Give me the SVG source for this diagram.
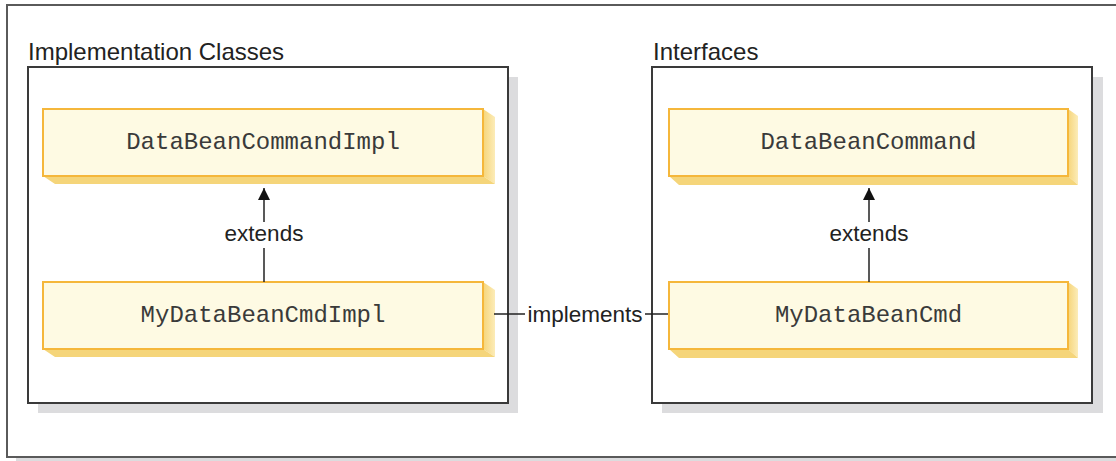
<svg xmlns="http://www.w3.org/2000/svg" width="1116" height="461" viewBox="0 0 1116 461">
<style>
.frame{fill:#ffffff;stroke:#5a5a5a;stroke-width:2}
.panel{fill:#ffffff;stroke:#3a3a3a;stroke-width:2}
.shadow{fill:#dcdcde}
.nodebox{fill:#fefae3;stroke:#f5b73b;stroke-width:2}
.bottom{fill:#f5d57a}
.mono{font-family:"Liberation Mono","Courier New",monospace;font-size:24px;fill:#3a3a3a;text-anchor:middle}
.title{font-family:"Liberation Sans",Arial,sans-serif;font-size:24px;fill:#222222}
.lbl{font-family:"Liberation Sans",Arial,sans-serif;font-size:22.5px;fill:#222222;text-anchor:middle}
.conn{stroke:#222222;stroke-width:1.5;fill:none}
</style>
<defs>
<linearGradient id="sideGrad" x1="0" y1="0" x2="1" y2="0">
<stop offset="0" stop-color="#f6d57a"/>
<stop offset="1" stop-color="#fcecb8"/>
</linearGradient>
<marker id="arrow" viewBox="0 0 12 12" refX="12" refY="6" markerWidth="12" markerHeight="12" markerUnits="userSpaceOnUse" orient="auto">
<path d="M0,0 L12,6 L0,12 Z" fill="#111111"/>
</marker>
</defs>
<!-- outer frame -->
<rect x="16" y="458" width="1100" height="3" class="shadow"/>
<rect x="7" y="5" width="1120" height="452" class="frame"/>

<g id="panel-impl">
<rect x="38" y="77" width="480" height="336" class="shadow"/>
<rect x="28" y="67" width="480" height="336" class="panel"/>
<text x="28" y="60" class="title">Implementation Classes</text>
</g>
<g id="panel-interfaces">
<rect x="662" y="77" width="441" height="336" class="shadow"/>
<rect x="652" y="67" width="440" height="336" class="panel"/>
<text x="653" y="60" class="title">Interfaces</text>
</g>

<g id="node-DataBeanCommandImpl">
<polygon points="483,109 495,117 495,184 483,176" fill="url(#sideGrad)"/>
<polygon points="43,176 55,184 495,184 483,176" class="bottom"/>
<rect x="43" y="109" width="440" height="67" class="nodebox"/>
<text x="263" y="149" class="mono">DataBeanCommandImpl</text>
</g>
<g id="node-MyDataBeanCmdImpl">
<polygon points="483,282 495,290 495,357 483,349" fill="url(#sideGrad)"/>
<polygon points="43,349 55,357 495,357 483,349" class="bottom"/>
<rect x="43" y="282" width="440" height="67" class="nodebox"/>
<text x="263" y="322" class="mono">MyDataBeanCmdImpl</text>
</g>
<g id="node-DataBeanCommand">
<polygon points="1068,109 1078,116 1078,185 1068,176" fill="url(#sideGrad)"/>
<polygon points="669,176 679,185 1078,185 1068,176" class="bottom"/>
<rect x="669" y="109" width="399" height="67" class="nodebox"/>
<text x="868.5" y="149" class="mono">DataBeanCommand</text>
</g>
<g id="node-MyDataBeanCmd">
<polygon points="1068,282 1078,289 1078,358 1068,349" fill="url(#sideGrad)"/>
<polygon points="669,349 679,358 1078,358 1068,349" class="bottom"/>
<rect x="669" y="282" width="399" height="67" class="nodebox"/>
<text x="868.5" y="322" class="mono">MyDataBeanCmd</text>
</g>

<g id="connectors">
<line x1="264" y1="282" x2="264" y2="248" class="conn"/>
<line x1="264" y1="222" x2="264" y2="188" class="conn" marker-end="url(#arrow)"/>
<text x="264" y="241" class="lbl">extends</text>
<line x1="869" y1="282" x2="869" y2="248" class="conn"/>
<line x1="869" y1="222" x2="869" y2="188" class="conn" marker-end="url(#arrow)"/>
<text x="869" y="241" class="lbl">extends</text>
<line x1="494" y1="314" x2="525" y2="314" class="conn"/>
<line x1="645" y1="314" x2="668" y2="314" class="conn"/>
<text x="585" y="322" class="lbl">implements</text>
</g>
</svg>
